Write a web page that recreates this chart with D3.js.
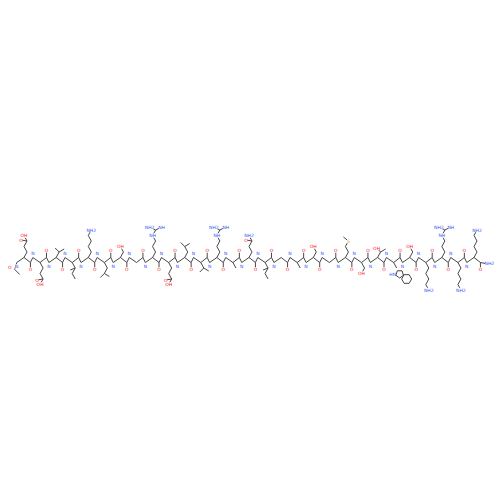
<!DOCTYPE html><html><head><script src="https://cdn.jsdelivr.net/npm/d3@7"></script></head><body style="margin:0;background:#fff"><svg id="c" width="500" height="500"></svg><script>
const residues=["E","E","V","I","K","L","S","G","R","E","L","V","R","A","Q","I","G","A","S","G","M","S","T","W","S","K","R","K","K"];
const nTerm="Ac", cTerm="NH2";
const svg=d3.select("#c");
const x=d3.scaleLinear().domain([0,residues.length-1]).range([24,474]);
const w=x(1)-x(0), y0=260, st=5.5;
const lines=[], labels=[], polys=[];
const L=(a,b)=>lines.push([a,b]);
const T=(p,t,c)=>labels.push({p,t,c});
residues.forEach((r,i)=>{
  const cx=x(i), dir=i%2===0?-1:1;
  const ca=[cx,y0+dir*2.5];
  const n=[cx-w*0.45,y0-dir*2.5], c=[cx+w*0.4,y0-dir*2.5];
  const o=[c[0],c[1]-dir*7];
  L(n,ca);L(ca,c);L(c,o);T(o,"O","#ff0d0d");
  if(i<residues.length-1) L(c,[x(i+1)-w*0.45,y0+dir*2.5]);
  T([n[0],n[1]+(i%2?-4:4)],"N","#3050f8");
  const pt=k=>[cx+(k%2?3:0),ca[1]+dir*st*k];
  const chain=k=>{for(let j=0;j<k;j++)L(pt(j),pt(j+1));};
  const br=(p,dx,dy)=>{const q=[p[0]+dx,p[1]+dir*dy];L(p,q);return q;};
  switch(r){
    case"A":chain(1);break;
    case"S":chain(1);L(pt(1),pt(2));T(pt(2),"OH","#ff0d0d");break;
    case"V":chain(1);br(pt(1),-4,4);br(pt(1),5,3);break;
    case"T":chain(1);T(br(pt(1),-4,4),"OH","#ff0d0d");br(pt(1),5,3);break;
    case"I":chain(3);br(pt(1),-5,2);break;
    case"L":chain(2);br(pt(2),-4,4);br(pt(2),5,3);break;
    case"K":chain(4);L(pt(4),pt(5));T(pt(5),"NH2","#3050f8");break;
    case"E":chain(3);L(pt(3),pt(4));T(pt(4),"OH","#ff0d0d");T(br(pt(3),-6,1),"O","#ff0d0d");break;
    case"Q":chain(3);L(pt(3),pt(4));T(pt(4),"NH2","#3050f8");T(br(pt(3),-6,1),"O","#ff0d0d");break;
    case"M":chain(2);L(pt(2),pt(3));T(pt(3),"S","#c8a000");L(pt(3),[pt(3)[0]-5,pt(3)[1]+dir*4]);break;
    case"R":{chain(3);L(pt(3),pt(4));T(pt(4),"NH","#3050f8");const q=pt(5);L(pt(4),q);
      T(br(q,-6,3),"NH2","#3050f8");T(br(q,6,3),"NH","#3050f8");break;}
    case"W":{chain(1);const b=pt(1);const cen=[b[0]+3,b[1]+dir*6];
      polys.push(d3.range(5).map(k=>[cen[0]+4*Math.cos(k*2*Math.PI/5+Math.PI/2),cen[1]+dir*4*Math.sin(k*2*Math.PI/5+Math.PI/2)]));
      const hc=[cen[0]+7,cen[1]+dir*5];
      polys.push(d3.range(6).map(k=>[hc[0]+5*Math.cos(k*Math.PI/3),hc[1]+5*Math.sin(k*Math.PI/3)]));
      T([cen[0]-7,cen[1]],"HN","#3050f8");break;}
  }
});
const n0=[x(0)-w*0.45,y0+2.5];
const ac=[n0[0]-2,n0[1]+7];L(n0,ac);L(ac,[ac[0]+5,ac[1]+5]);T([ac[0]-5,ac[1]-2],"O","#ff0d0d");
const last=residues.length-1, cl=[x(last)+w*0.4,y0+2.5];
const ct=[cl[0]+9,cl[1]+1];L(cl,[ct[0]-4,ct[1]]);T(ct,"NH2","#3050f8");
svg.selectAll("line").data(lines).join("line").attr("x1",d=>d[0][0]).attr("y1",d=>d[0][1]).attr("x2",d=>d[1][0]).attr("y2",d=>d[1][1]).attr("stroke","#333").attr("stroke-width",0.9);
svg.selectAll("polygon").data(polys).join("polygon").attr("points",d=>d.map(p=>p.join(",")).join(" ")).attr("fill","none").attr("stroke","#333").attr("stroke-width",0.9);
const g=svg.selectAll("g.l").data(labels).join("g").attr("transform",d=>`translate(${d.p[0]},${d.p[1]})`);
g.append("rect").attr("x",d=>-d.t.length*1.4).attr("y",-2.2).attr("width",d=>d.t.length*2.8).attr("height",4.4).attr("fill","#fff");
g.append("text").text(d=>d.t).attr("fill",d=>d.c).attr("font-size",4.5).attr("font-family","DejaVu Sans").attr("text-anchor","middle").attr("dy","0.35em");
</script></body></html>
